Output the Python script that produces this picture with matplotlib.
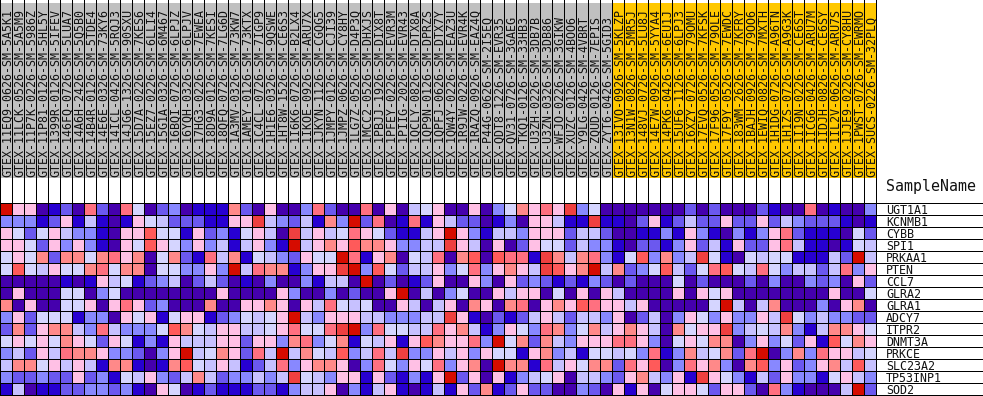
import matplotlib
matplotlib.use("Agg")
import matplotlib.pyplot as plt
from matplotlib.colors import ListedColormap
import numpy as np

# GenePattern style colour table, 12 levels
colors = ["#4500AD", "#2700D1", "#6B58EF", "#8888FF", "#C7C1FF", "#D5D5FF",
          "#FFC0E5", "#FF8989", "#FF7080", "#FF5A5A", "#EF4040", "#D60C00"]

genes = ["UGT1A1", "KCNMB1", "CYBB", "SPI1", "PRKAA1", "PTEN", "CCL7", "GLRA2",
         "GLRA1", "ADCY7", "ITPR2", "DNMT3A", "PRKCE", "SLC23A2", "TP53INP1", "SOD2"]

samples_other = [
    "GTEX-11EQ9-0626-SM-5A5K1", "GTEX-11LCK-0526-SM-5A5M9", "GTEX-11P7K-0226-SM-5986Z",
    "GTEX-11P81-0126-SM-5HL5Y", "GTEX-1399R-0126-SM-5IFEV", "GTEX-146FQ-0726-SM-5LUA7",
    "GTEX-14A6H-2426-SM-5Q5B0", "GTEX-14B4R-0126-SM-5TDE4", "GTEX-14E6E-0326-SM-73KY6",
    "GTEX-14ICL-0426-SM-5RQJ3", "GTEX-14JG6-1326-SM-90SXU", "GTEX-15D7A-0226-SM-7KES6",
    "GTEX-15EZ7-0226-SM-6LLI4", "GTEX-15G1A-0326-SM-6M467", "GTEX-16BQI-0726-SM-6LPJZ",
    "GTEX-16YQH-0326-SM-6LPJV", "GTEX-17HG3-0226-SM-7EWEA", "GTEX-18D9A-0126-SM-7KESI",
    "GTEX-18QFQ-0726-SM-7LG6D", "GTEX-1A3MV-0326-SM-73KW7", "GTEX-1AMEY-0126-SM-73KTX",
    "GTEX-1C4CL-0726-SM-7IGP9", "GTEX-1H1E6-0326-SM-9QSWE", "GTEX-1HT8W-1526-SM-CE6S3",
    "GTEX-1I6K6-0726-SM-B2LX4", "GTEX-1IKOE-0926-SM-ARU7X", "GTEX-1JKYN-1126-SM-CGQG5",
    "GTEX-1JMPY-0126-SM-CJI39", "GTEX-1JMPZ-0626-SM-CY8HY", "GTEX-1LG7Z-0526-SM-D4P3Q",
    "GTEX-1MCC2-0526-SM-DHXJS", "GTEX-1PBJJ-1926-SM-DIX8T", "GTEX-1PFEY-0226-SM-EVR3M",
    "GTEX-1PIIG-2026-SM-EVR43", "GTEX-1QCLY-0826-SM-DTX8A", "GTEX-1QP9N-0126-SM-DPRZS",
    "GTEX-1QPFJ-0626-SM-DTX7Y", "GTEX-1QW4Y-0226-SM-EAZ3U", "GTEX-1R9JW-0226-SM-EVR4K",
    "GTEX-1RAZQ-0926-SM-EAZ4Q", "GTEX-P44G-0626-SM-2I5EQ", "GTEX-QDT8-1226-SM-EVR35",
    "GTEX-QV31-0726-SM-3GAEG", "GTEX-TKQ1-0126-SM-33HB3", "GTEX-U3ZH-0226-SM-3DB7B",
    "GTEX-U3ZN-0326-SM-3DB86", "GTEX-WFJO-0226-SM-3GIKW", "GTEX-XUZC-0126-SM-4BOO6",
    "GTEX-Y9LG-0426-SM-4VBRT", "GTEX-ZQUD-0126-SM-7EPIS", "GTEX-ZYT6-0426-SM-5GID3",
]
samples_orange = [
    "GTEX-13IVO-0926-SM-5KLZP", "GTEX-13N1W-0826-SM-5MR5J", "GTEX-148VJ-0726-SM-5LU8J",
    "GTEX-14E7W-0926-SM-5YYA4", "GTEX-14PK6-0426-SM-6EU1J", "GTEX-15UF6-1126-SM-6LPJ3",
    "GTEX-16XZY-0726-SM-79OMU", "GTEX-17EVQ-0526-SM-7KFSK", "GTEX-17F96-0526-SM-79OLE",
    "GTEX-17F9Y-0526-SM-7EWDC", "GTEX-183WM-2626-SM-7KFRY", "GTEX-1BAJH-0926-SM-79OO6",
    "GTEX-1EWIQ-0826-SM-7MXTH", "GTEX-1H1DG-0726-SM-A96TN", "GTEX-1H1ZS-0726-SM-A9G3K",
    "GTEX-1I19N-0226-SM-CE6ST", "GTEX-1ICG6-0426-SM-ARU7M", "GTEX-1IDJH-0826-SM-CE6SY",
    "GTEX-1IL2V-0626-SM-ARU7S", "GTEX-1JJE9-0226-SM-CY8HU", "GTEX-1PWST-0726-SM-EWRMO",
    "GTEX-SUCS-0226-SM-32PLQ",
]
samples = samples_other + samples_orange

# colour level of each cell, one hex digit per sample, read by eye
rows = [
    "b 6 6 0 1 2 0 8 2 0 8 5 0 2 3 0 1 1 1 7 2 0 6 0 0  3 8 2 0 0 8 0 6 0 4 5 6 0 0 6 0 3 5 7 6 8 6 a 3 5  0 0 0 0 0 0 0 2 0 2 0 0 0 2 1 0 0 8 0 1 0 0 3",
    "3 3 3 1 2 6 1 4 1 0 1 6 5 4 2 2 2 1 1 6 6 a 4 3 2  4 1 7 3 b 2 8 0 1 8 1 6 4 2 2 0 1 3 0 6 6 4 1 1 a  1 1 0 2 6 1 2 4 2 2 6 2 2 6 2 4 3 2 2 2 1 0 1",
    "6 5 2 5 6 4 3 3 1 0 6 6 9 5 5 1 6 2 3 1 5 6 4 0 a  4 6 4 5 8 6 5 2 1 1 4 6 b 6 3 1 4 4 3 6 6 6 2 4 4  2 0 0 1 1 3 1 6 3 1 0 3 1 3 6 8 2 1 1 1 0 5 2",
    "6 6 5 2 6 3 6 3 1 0 6 5 9 6 5 3 6 3 4 1 4 6 3 1 b  4 6 7 6 9 7 7 6 3 3 4 4 a 6 4 0 6 0 2 6 5 5 2 4 3  3 1 0 2 2 1 3 6 2 4 1 6 2 2 6 8 4 1 1 0 1 5 4",
    "5 6 5 7 2 7 7 5 7 8 6 7 0 5 7 2 1 8 4 7 1 5 4 3 2  6 5 5 b 8 1 6 7 0 5 4 8 0 7 9 0 9 8 8 1 a 7 4 7 8  3 1 5 9 3 7 3 4 a 5 1 0 5 4 5 5 1 1 1 4 2 b 4",
    "5 9 5 4 6 5 5 7 8 5 7 7 0 5 5 3 3 6 3 b 4 8 7 7 1  3 6 6 a b 3 9 5 2 4 4 6 3 5 8 3 6 7 6 4 a 9 6 7 b  4 7 2 3 5 9 4 2 5 8 9 5 4 8 5 3 4 4 2 4 8 3 6",
    "0 0 0 0 0 1 0 1 6 4 5 1 2 3 4 0 2 4 2 0 1 0 3 0 0  3 1 4 4 0 b 0 2 0 1 2 6 0 0 6 3 0 6 2 3 2 1 2 1 3  2 0 2 0 0 0 5 0 2 0 0 0 2 0 3 0 0 3 2 3 0 6 2",
    "0 6 0 0 0 5 5 0 3 5 0 0 0 0 0 0 0 0 6 0 0 0 0 6 3  0 0 3 0 2 0 0 6 b 0 4 0 3 5 0 0 6 4 6 6 0 5 0 6 0  6 4 0 0 0 0 6 0 6 5 6 0 0 0 0 0 0 0 0 6 0 0 5",
    "7 0 6 0 0 5 5 6 0 6 8 6 2 3 0 0 0 7 0 0 6 6 7 6 0  6 4 8 5 4 5 0 0 6 4 0 4 6 0 7 6 0 7 8 0 6 7 6 9 8  6 6 4 6 0 0 0 0 0 5 b 4 0 4 7 0 0 0 3 0 6 7 0",
    "3 6 2 5 5 5 1 3 3 0 6 5 6 1 5 6 6 1 2 3 5 4 5 6 b  4 3 6 6 6 4 4 3 3 3 4 4 a 6 1 0 2 1 2 4 6 4 2 4 4  3 6 0 2 4 0 3 6 5 3 6 3 3 6 4 a 5 3 4 3 3 2 2",
    "2 7 2 6 7 7 4 3 8 4 3 3 3 5 9 7 5 4 6 6 4 4 5 6 8  5 5 8 a b 3 8 5 5 4 4 8 6 7 4 1 3 6 5 3 8 7 3 5 7  4 6 7 6 4 0 7 5 6 6 a 3 4 5 4 7 3 1 4 7 7 6 5",
    "5 6 5 6 5 7 6 5 2 6 5 1 3 1 6 4 4 4 6 6 2 6 6 3 7  8 3 5 7 1 5 4 6 1 6 9 7 6 6 8 3 b 5 7 2 7 4 3 6 6  6 8 8 6 3 0 5 6 5 7 7 0 3 6 3 5 2 6 1 9 5 7 6",
    "3 4 2 6 4 8 7 7 6 3 3 2 0 3 6 b 4 5 7 6 2 8 4 b 4  7 5 4 9 3 4 8 4 a 3 3 6 4 6 3 6 5 5 1 6 7 3 4 1 5  5 4 5 3 8 1 3 7 4 5 7 2 8 b 0 3 7 3 8 6 6 4 5",
    "4 7 7 5 6 4 6 4 1 7 7 1 0 1 7 9 5 4 6 4 1 2 4 8 3  6 7 7 6 0 3 8 5 3 6 5 8 3 6 7 0 b 7 7 1 8 4 6 5 7  7 2 8 6 9 0 3 8 6 7 3 0 7 9 3 6 2 3 6 7 4 9 4",
    "3 2 2 3 2 2 6 2 3 1 5 4 6 3 2 4 7 4 2 3 3 4 3 4 a  5 4 3 6 6 1 6 2 1 3 1 6 b 2 6 0 6 1 3 4 5 6 0 4 4  3 2 6 7 4 3 6 1 a 6 5 3 1 4 2 6 3 3 1 5 6 4 3",
    "1 4 0 1 1 2 2 3 3 2 3 1 0 6 5 0 1 2 1 1 1 2 2 1 3  4 4 6 0 3 1 4 6 1 0 1 4 1 6 2 7 1 2 6 2 2 0 0 3 2  0 6 1 6 0 5 6 6 5 2 6 6 2 0 8 3 1 0 0 0 4 b 2",
]
levels = np.array([[int(c, 16) for c in r.split()] for r in rows])

cell = 12
ncol = len(samples)
nrow = len(genes)
top = 203
strip_top, strip_bot = 3, 178
px = 72 / 100  # one pixel in points

fig = plt.figure(figsize=(9.83, 3.96), dpi=100)
ax = fig.add_axes([0, 0, 1, 1])

xe = np.arange(ncol + 1) * cell
ye = top + np.arange(nrow + 1) * cell
ax.pcolormesh(xe, ye, levels, cmap=ListedColormap(colors), vmin=-0.5, vmax=11.5,
              antialiased=False, rasterized=True)

# sample name strips
strip_colors = ["#C0C0C0"] * len(samples_other) + ["#FFC800"] * len(samples_orange)
ax.bar(xe[:-1], strip_bot - strip_top, bottom=strip_top, width=cell, align="edge",
       color=strip_colors, linewidth=0)

for i, name in enumerate(samples):
    ax.text(xe[i] + 11, strip_bot - 1, name, rotation=90, ha="left", va="baseline",
            rotation_mode="anchor", family="DejaVu Sans Mono", fontsize=8.35, color="#111111")

# 1px grid, no snapping so the lines stay on the pixel they are given
vl = ax.vlines(xe + 0.5, 0, ye[-1], color="black", linewidth=px)
hl = ax.hlines(ye + 0.5, 0, 983, color="black", linewidth=px)
vl.set_snap(False)
hl.set_snap(False)

for j, g in enumerate(genes):
    ax.text(886, ye[j + 1] - 0.5, g, ha="left", va="baseline", family="DejaVu Sans Mono",
            fontsize=8.35, color="#111111")
ax.text(886, 191, "SampleName", ha="left", va="baseline", family="DejaVu Sans Mono",
        fontsize=10.7, color="#111111")

ax.set_xlim(0, 983)
ax.set_ylim(396, 0)
ax.axis("off")
fig.savefig("out.png", dpi=100, facecolor="white")
